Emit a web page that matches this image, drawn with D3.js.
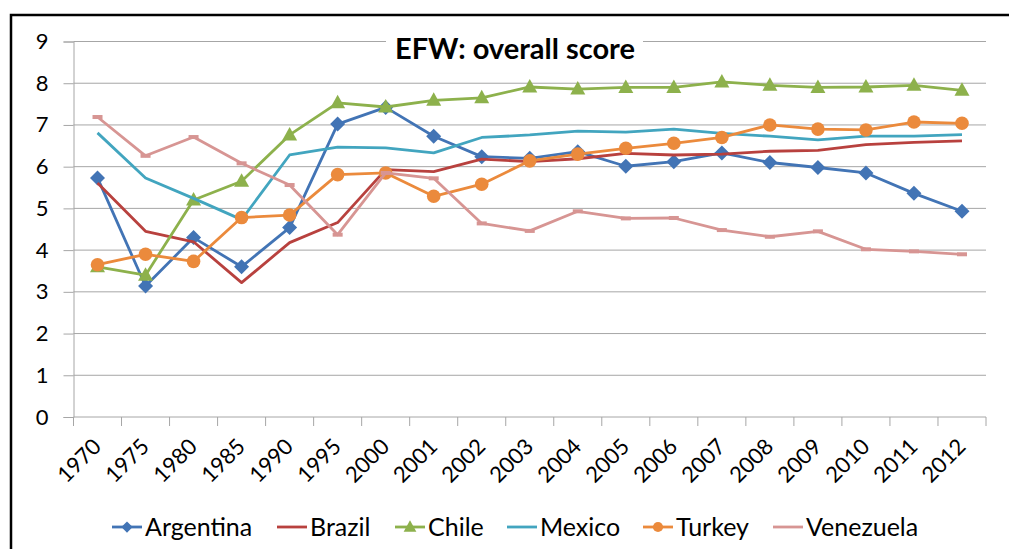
<!DOCTYPE html>
<html>
<head>
<meta charset="utf-8">
<script src="https://cdn.jsdelivr.net/npm/d3@7"></script>
<style>
  body { margin: 0; background: #fff; }
  text { font-family: Lato, "Open Sans", sans-serif; fill: #000; }
</style>
</head>
<body>
<div id="chart"></div>
<script>
// data
var years = ['1970','1975','1980','1985','1990','1995','2000','2001','2002','2003',
  '2004','2005','2006','2007','2008','2009','2010','2011','2012']
var yTicks = [0, 1, 2, 3, 4, 5, 6, 7, 8, 9]

var argentina = [5.73,3.14,4.30,3.60,4.54,7.02,7.42,6.73,6.24,6.20,6.36,6.01,6.12,6.33,6.10,5.98,5.85,5.36,4.93]
var brazil    = [5.61,4.45,4.20,3.22,4.18,4.66,5.93,5.88,6.18,6.12,6.19,6.32,6.28,6.30,6.37,6.39,6.53,6.58,6.62]
var chile     = [3.60,3.40,5.20,5.65,6.76,7.53,7.43,7.59,7.65,7.91,7.86,7.90,7.90,8.03,7.95,7.90,7.91,7.95,7.83]
var mexico    = [6.81,5.73,5.24,4.73,6.28,6.47,6.45,6.33,6.70,6.76,6.85,6.83,6.90,6.80,6.73,6.64,6.73,6.73,6.77]
var turkey    = [3.65,3.90,3.73,4.78,4.84,5.81,5.85,5.29,5.58,6.14,6.30,6.44,6.56,6.70,7.00,6.90,6.88,7.07,7.04]
var venezuela = [7.19,6.26,6.71,6.08,5.56,4.37,5.85,5.72,4.64,4.46,4.93,4.76,4.77,4.48,4.32,4.45,4.02,3.97,3.90]

var series = [
  {name: 'Argentina', values: argentina, color: '#4274B5', marker: 'diamond'},
  {name: 'Brazil', values: brazil, color: '#B8413E', marker: 'none'},
  {name: 'Chile', values: chile, color: '#8DB14C', marker: 'triangle'},
  {name: 'Mexico', values: mexico, color: '#42A5BF', marker: 'none'},
  {name: 'Turkey', values: turkey, color: '#EB8A3C', marker: 'circle'},
  {name: 'Venezuela', values: venezuela, color: '#D79593', marker: 'dash'}
]

var W = 1009, H = 549
var margin = {top: 41.5, right: 23, bottom: 132, left: 73.5}
var width = W - margin.left - margin.right,
    height = H - margin.top - margin.bottom

var svg = d3.select('#chart').append('svg')
  .attr('width', W).attr('height', H)

// outer frame
svg.append('rect')
  .attr('x', 11).attr('y', 15)
  .attr('width', 1020).attr('height', 560)
  .attr('fill', 'none').attr('stroke', '#000').attr('stroke-width', 2.5)

var g = svg.append('g')
  .attr('transform', 'translate(' + margin.left + ',' + margin.top + ')')

var x = d3.scaleBand().domain(years).range([0, width])
var y = d3.scaleLinear().domain([0, 9]).range([height, 0])
var cx = function(i) { return x(years[i]) + x.bandwidth() / 2 }

// gridlines + y axis
var yAxis = d3.axisLeft(y).tickValues(yTicks).tickSize(10).tickPadding(15)
var ya = g.append('g').call(yAxis)
ya.select('.domain').attr('stroke', '#A6A6A6')
ya.selectAll('.tick line').attr('stroke', '#A6A6A6')
ya.selectAll('.tick text').style('font-size', '22px').attr('fill', '#000')

g.append('g').selectAll('line.grid')
  .data(yTicks.filter(function(d) { return d > 0 }))
  .enter().append('line')
  .attr('x1', 0).attr('x2', width)
  .attr('y1', function(d) { return y(d) }).attr('y2', function(d) { return y(d) })
  .attr('stroke', '#A6A6A6').attr('stroke-width', 1)

// x axis with ticks between categories
var xa = g.append('g').attr('transform', 'translate(0,' + height + ')')
xa.append('line').attr('x1', 0).attr('x2', width).attr('stroke', '#A6A6A6')
xa.selectAll('line.tk')
  .data(d3.range(years.length + 1))
  .enter().append('line')
  .attr('x1', function(i) { return i * x.bandwidth() })
  .attr('x2', function(i) { return i * x.bandwidth() })
  .attr('y1', 0).attr('y2', 9)
  .attr('stroke', '#A6A6A6')
xa.selectAll('text')
  .data(years)
  .enter().append('text')
  .attr('transform', function(d, i) { return 'translate(' + (cx(i) + 5) + ',31) rotate(-45)' })
  .attr('text-anchor', 'end')
  .style('font-size', '22px')
  .text(function(d) { return d })

// title with white box that breaks the top gridline
svg.append('rect')
  .attr('x', 386).attr('y', 28).attr('width', 257).attr('height', 38)
  .attr('fill', '#fff')
svg.append('text')
  .attr('x', 515).attr('y', 59)
  .attr('text-anchor', 'middle')
  .style('font-size', '29px').style('font-weight', 'bold')
  .text('EFW: overall score')

var line = d3.line()
  .x(function(d, i) { return cx(i) })
  .y(function(d) { return y(d) })

function drawMarker(sel, type, color) {
  if (type === 'diamond') {
    sel.append('path').attr('d', 'M0,-7.5L7.5,0L0,7.5L-7.5,0Z').attr('fill', color)
  } else if (type === 'triangle') {
    sel.append('path').attr('d', 'M0,-8L7.5,5.5L-7.5,5.5Z').attr('fill', color)
  } else if (type === 'circle') {
    sel.append('circle').attr('r', 6.8).attr('fill', color)
  } else if (type === 'dash') {
    sel.append('rect').attr('x', -5).attr('y', -2).attr('width', 10).attr('height', 4).attr('fill', color)
  }
}

series.forEach(function(s) {
  g.append('path')
    .datum(s.values)
    .attr('d', line)
    .attr('fill', 'none')
    .attr('stroke', s.color)
    .attr('stroke-width', 2.8)
    .attr('stroke-linejoin', 'round')
  if (s.marker !== 'none') {
    g.append('g').selectAll('g')
      .data(s.values)
      .enter().append('g')
      .attr('transform', function(d, i) { return 'translate(' + cx(i) + ',' + y(d) + ')' })
      .each(function() { drawMarker(d3.select(this), s.marker, s.color) })
  }
})

// legend
var legendX = [112, 277, 395, 507, 643, 773]
var lg = svg.append('g').attr('transform', 'translate(0,527)')
series.forEach(function(s, i) {
  var item = lg.append('g').attr('transform', 'translate(' + legendX[i] + ',0)')
  item.append('line').attr('x1', 0).attr('x2', 30)
    .attr('stroke', s.color).attr('stroke-width', 2.8)
  if (s.marker === 'diamond' || s.marker === 'circle') {
    var m = item.append('g').attr('transform', 'translate(15,0) scale(0.75)')
    drawMarker(m, s.marker, s.color)
  } else if (s.marker === 'triangle') {
    var m2 = item.append('g').attr('transform', 'translate(15,0) scale(0.85)')
    drawMarker(m2, s.marker, s.color)
  }
  item.append('text').attr('x', 33).attr('dy', '0.36em')
    .style('font-size', '25px')
    .text(s.name)
})
</script>
</body>
</html>
